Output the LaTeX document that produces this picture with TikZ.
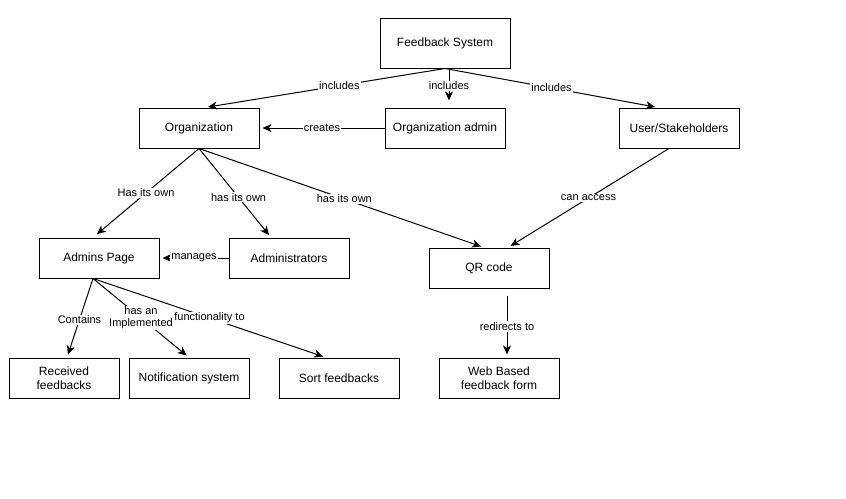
\documentclass[tikz,border=0pt]{standalone}
\usepackage{fontspec}
\setmainfont{Liberation Sans}
\usetikzlibrary{arrows.meta,positioning}

\begin{document}
\begin{tikzpicture}[
    x=1pt, y=-1pt,
    every node/.style={font=\fontsize{12}{14}\selectfont},
    box/.style={draw, line width=1pt, minimum width=120pt, minimum height=40pt, align=center, inner sep=2pt},
    link/.style={draw, line width=1pt, -{Stealth[length=9pt,width=8pt,inset=2.5pt]}, shorten >=3pt},
    lbl/.style={fill=white, inner sep=1pt, font=\fontsize{11}{12}\selectfont, align=center}
  ]
    \useasboundingbox (0,0) rectangle (846,498);

    % top level
    \node[box, minimum width=130pt, minimum height=50pt] (fs) at (445,43) {Feedback System};
    \node[box] (org) at (199,128) {Organization};
    \node[box] (orgadmin) at (445,128) {Organization admin};
    \node[box] (users) at (679,128) {User/Stakeholders};

    % middle row
    \node[box] (adminpage) at (99,258) {Admins Page};
    \node[box] (administrators) at (289,258) {Administrators};
    \node[box] (qr) at (489,268) {QR code};

    % bottom row
    \node[box, minimum width=110pt] (received) at (64,378) {Received\\feedbacks};
    \node[box] (notif) at (189,378) {Notification system};
    \node[box] (sort) at (339,378) {Sort feedbacks};
    \node[box] (web) at (499,378) {Web Based\\feedback form};

    \draw[link] (fs.south) -- ([xshift=6]org.north) node[lbl, pos=0.44] {includes};
    \draw[link, shorten >=7pt] ([xshift=4]fs.south) -- ([xshift=4]orgadmin.north) node[lbl, pos=0.45] {includes};
    \draw[link] (fs.south) -- ([xshift=-21]users.north) node[lbl, pos=0.5] {includes};
    \draw[link] (orgadmin.west) -- (org.east) node[lbl, pos=0.5] {creates};

    \draw[link, shorten >=5pt] (org.south) -- ([xshift=-6]adminpage.north) node[lbl, pos=0.5] {Has its own};
    \draw[link] (org.south) -- ([xshift=-18]administrators.north) node[lbl, pos=0.55] {has its own};
    \draw[link] (org.south) -- ([xshift=-5]qr.north) node[lbl, pos=0.51] {has its own};
    \draw[link] ([xshift=-10]users.south) -- ([xshift=19]qr.north) node[lbl, pos=0.5] {can access};
    \draw[link] (administrators.west) -- (adminpage.east) node[lbl, pos=0.5] {manages};

    \draw[link] ([xshift=-6]adminpage.south) -- ([xshift=3]received.north) node[lbl, pos=0.52] {Contains};
    \draw[link] ([xshift=-6]adminpage.south) -- (notif.north) node[lbl, pos=0.5] {has an\\Implemented};
    \draw[link] ([xshift=-6]adminpage.south) -- ([xshift=-13]sort.north) node[lbl, pos=0.5] {functionality to};
    \draw[link] ([xshift=18,yshift=-7]qr.south) -- ([xshift=8]web.north) node[lbl, pos=0.5] {redirects to};
  \end{tikzpicture}
\end{document}
